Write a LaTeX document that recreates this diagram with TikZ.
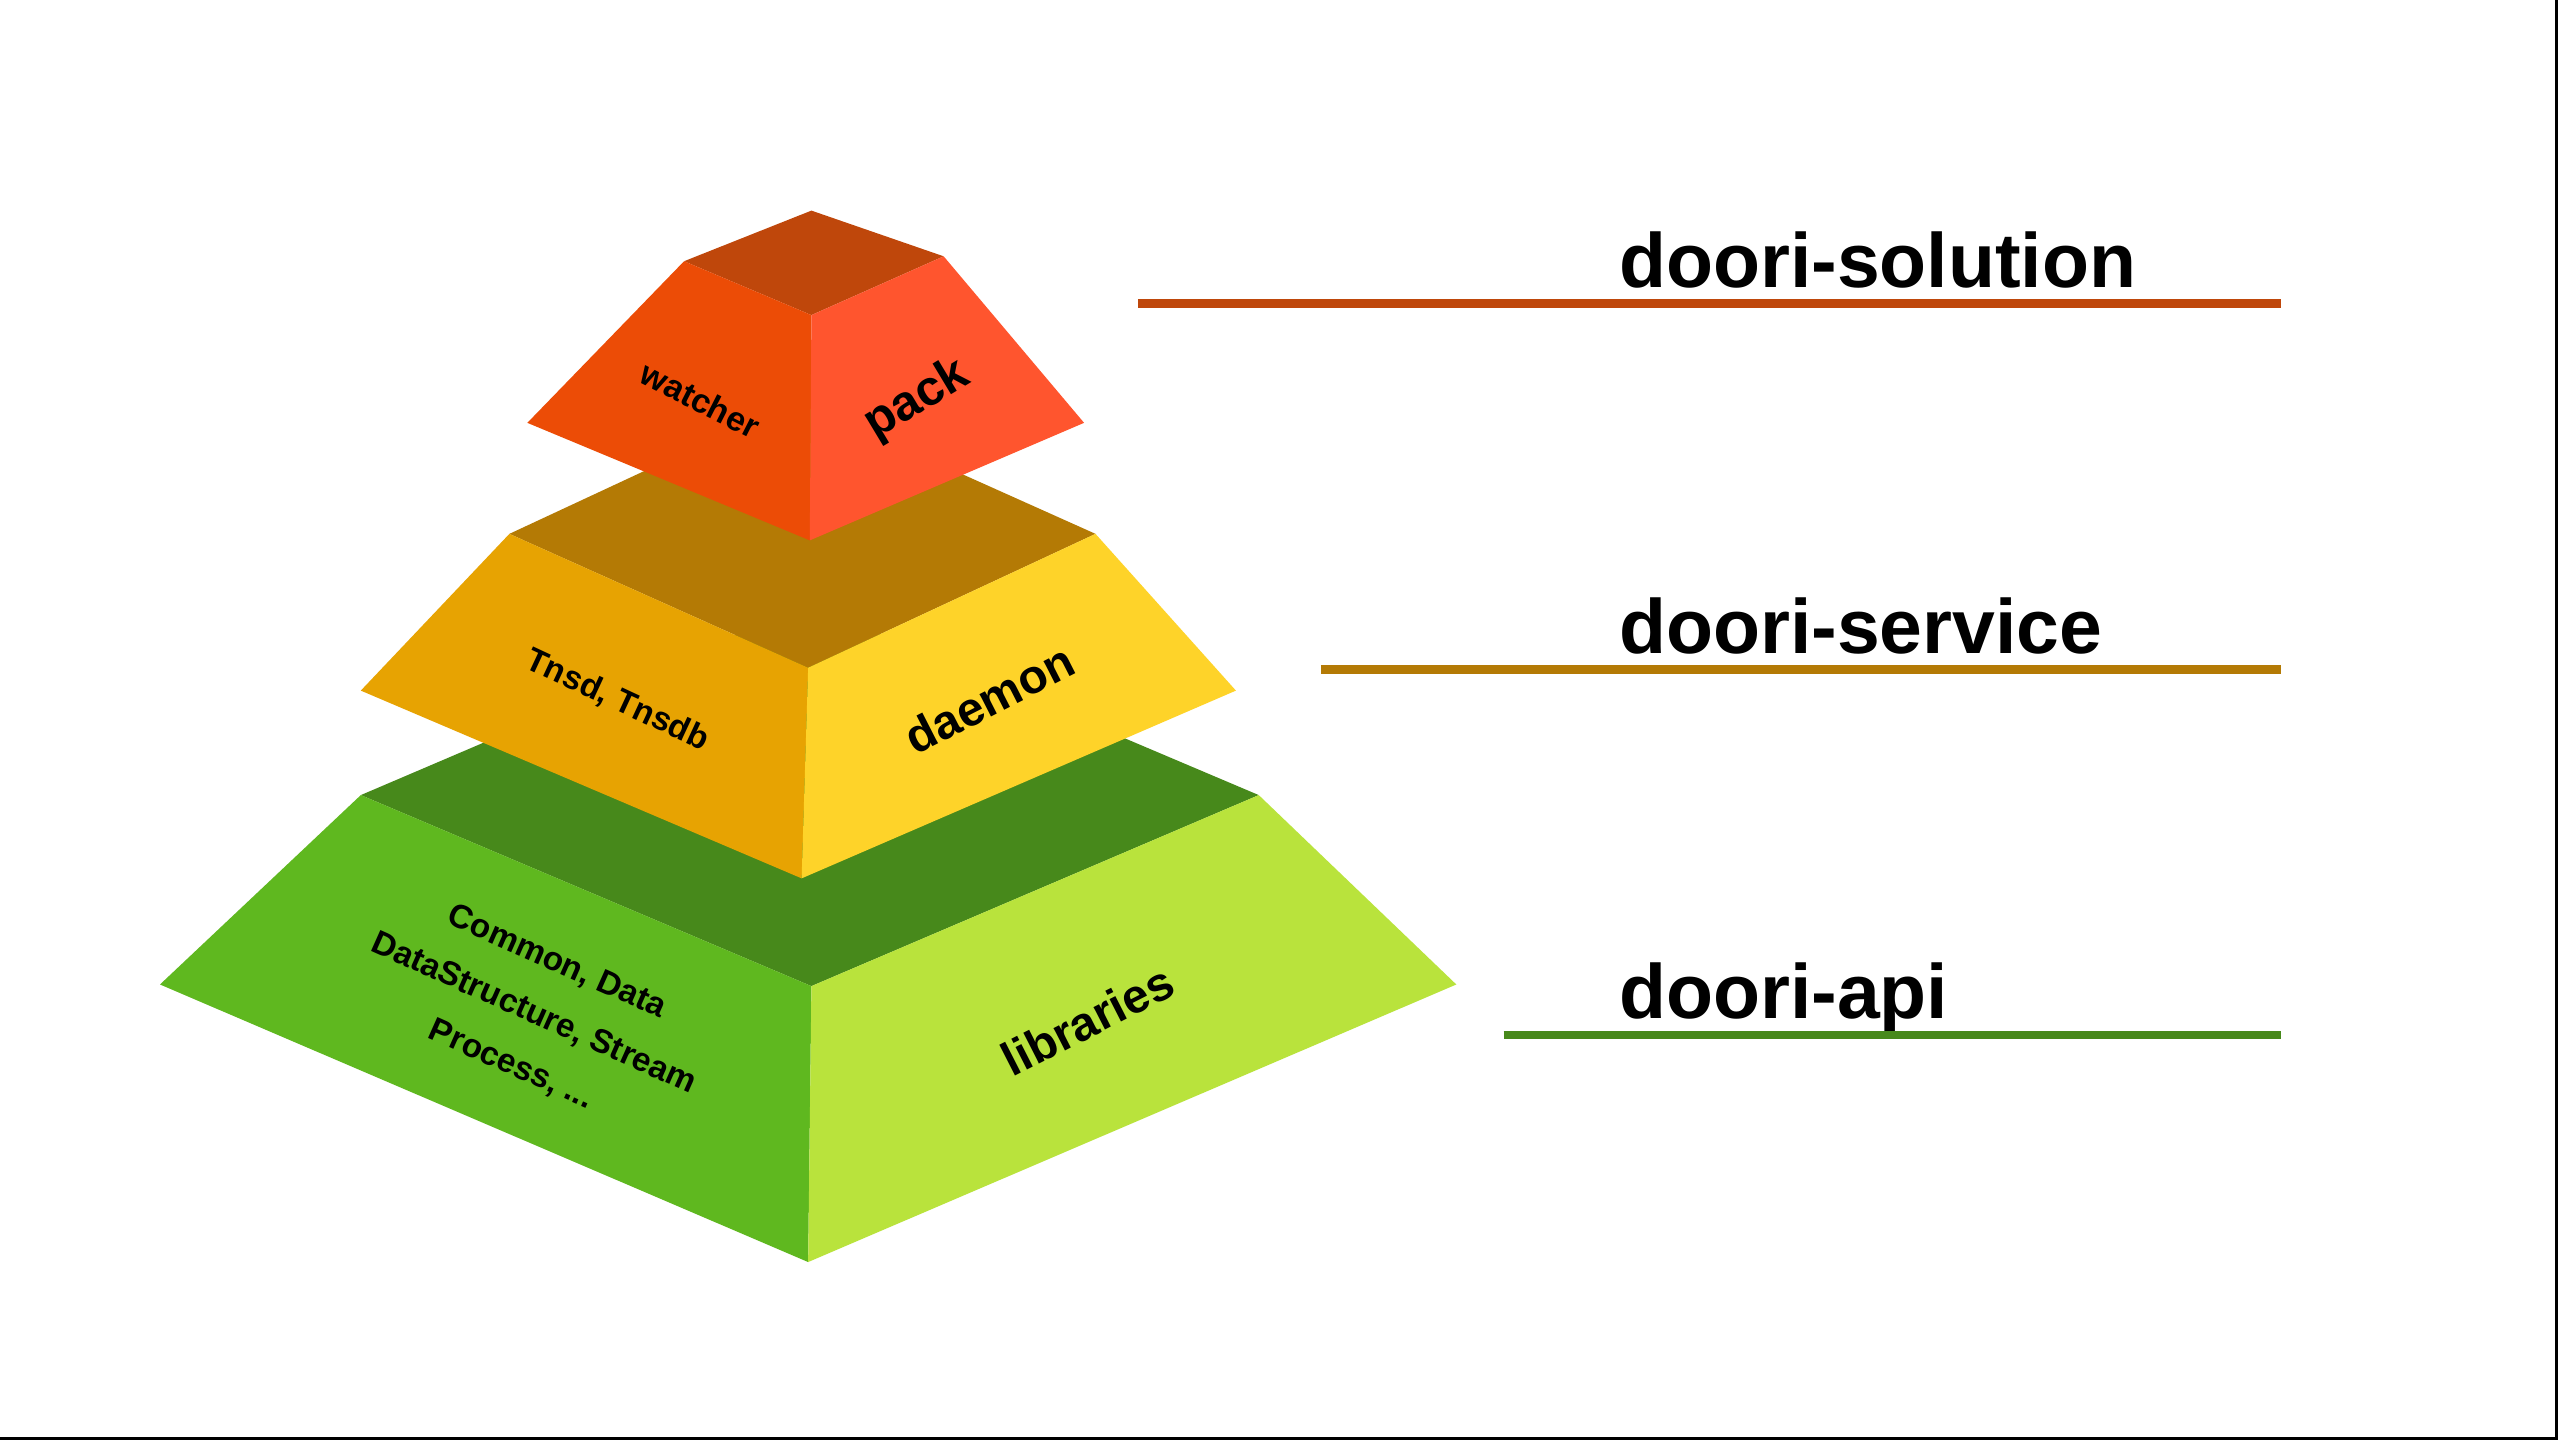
\documentclass[tikz,border=0pt]{standalone}
\usepackage{fontspec}
\setmainfont{Liberation Sans}
\definecolor{solroof}{HTML}{BF470B}
\definecolor{solleft}{HTML}{EC4C06}
\definecolor{solright}{HTML}{FF552E}
\definecolor{serroof}{HTML}{B47A05}
\definecolor{serleft}{HTML}{E7A302}
\definecolor{serright}{HTML}{FED329}
\definecolor{apiroof}{HTML}{47891B}
\definecolor{apileft}{HTML}{5FB81F}
\definecolor{apiright}{HTML}{B9E33C}
\tikzset{
  facetext/.style={font=\bfseries\fontsize{#1}{9.8}\selectfont,text=black,align=center,inner sep=0pt},
  layername/.style={font=\bfseries\fontsize{13.4}{16}\selectfont,anchor=base west,inner sep=0pt}
}
\begin{document}
\begin{tikzpicture}[x=0.01cm,y=-0.01cm]
\useasboundingbox (0,0) rectangle (1568,882);
\fill[white] (0,0) rectangle (1568,882);
% doori-api
\fill[apiroof] (221,487) -- (495,370) -- (771,487) -- (497,604) -- cycle;
\fill[apileft] (221,487) -- (497,604) -- (495,773) -- (98,603) -- cycle;
\fill[apiright] (771,487) -- (892,603) -- (495,773) -- (497,604) -- cycle;
% doori-service
\fill[serroof] (312,327) -- (488,245) -- (671,327) -- (495,409) -- cycle;
\fill[serleft] (312,327) -- (495,409) -- (491,538) -- (221,423) -- cycle;
\fill[serright] (671,327) -- (757,423) -- (491,538) -- (495,409) -- cycle;
% doori-solution
\fill[solroof] (419,160) -- (497,129) -- (578,157) -- (497,193) -- cycle;
\fill[solleft] (419,160) -- (497,193) -- (496,331) -- (323,259) -- cycle;
\fill[solright] (578,157) -- (664,259) -- (496,331) -- (497,193) -- cycle;

\node[facetext=5.9, rotate=-27] (watcher) at (429,245) {watcher};
\node[facetext=8.6, rotate=31] (pack) at (562,245) {pack};
\node[facetext=5.8, rotate=-25] (tnsd) at (378,429) {Tnsd, Tnsdb};
\node[facetext=8.3, rotate=27] (daemon) at (606,428) {daemon};
\node[facetext=5.8, rotate=-24] (common) at (327,621) {Common, Data\\DataStructure, Stream\\Process, ...};
\node[facetext=8.3, rotate=27] (libraries) at (666,625) {libraries};

\foreach \lname/\ly/\lx/\lcol in {doori-solution/186/697/solroof,doori-service/410/809/serroof,doori-api/634/921/apiroof}
{
  \node[layername] (\lname) at (991,\ly-10) {\lname};
  \draw[\lcol, line width=1.5pt] (\lx,\ly) -- (1397,\ly);
}

\draw[black, line width=0.5pt] (1566,0) -- (1566,881) -- (0,881);
\end{tikzpicture}
\end{document}
